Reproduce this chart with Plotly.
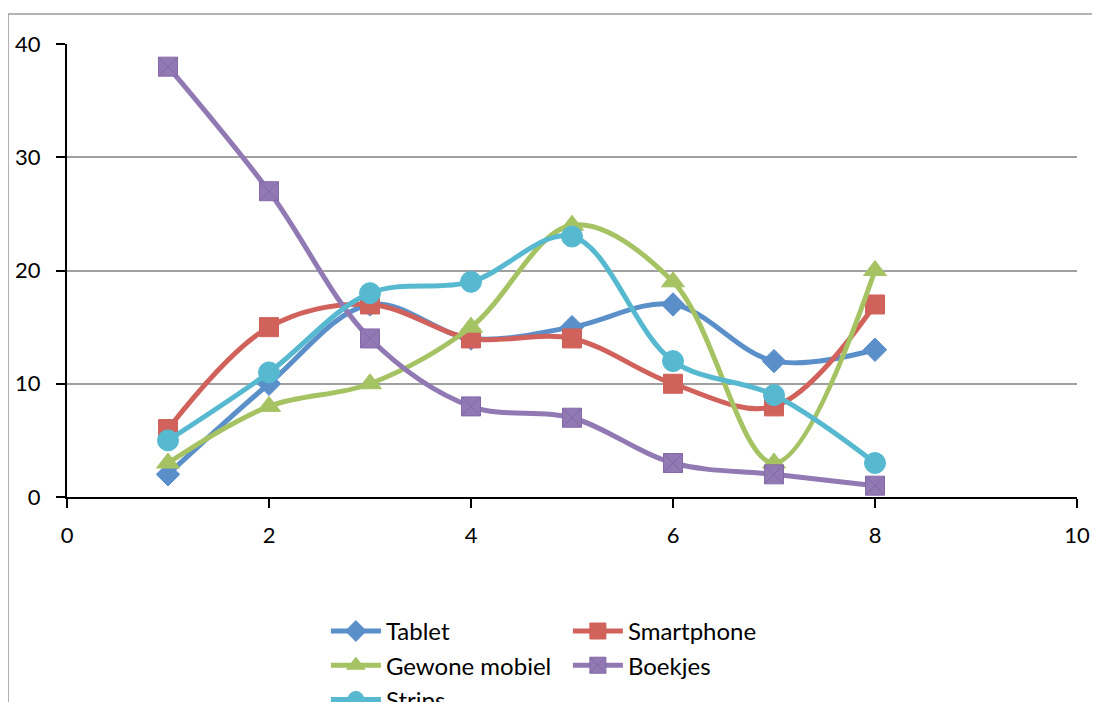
import plotly.graph_objects as go

x_vals = [1, 2, 3, 4, 5, 6, 7, 8]
tablet = [2, 10, 17, 14, 15, 17, 12, 13]
smartphone = [6, 15, 17, 14, 14, 10, 8, 17]
gewone_mobiel = [3, 8, 10, 15, 24, 19, 3, 20]
boekjes = [38, 27, 14, 8, 7, 3, 2, 1]
strips = [5, 11, 18, 19, 23, 12, 9, 3]

x_ticks = [0, 2, 4, 6, 8, 10]
y_ticks = [0, 10, 20, 30, 40]

FONT = "Lato, 'Open Sans', sans-serif"

series = [
    ("Tablet", tablet, "#5b8fca", "diamond", 18, "legend"),
    ("Smartphone", smartphone, "#d0625b", "square", 19, "legend2"),
    ("Gewone mobiel", gewone_mobiel, "#a6c363", "triangle-up", 20, "legend"),
    ("Boekjes", boekjes, "#9179b4", "square-x", 19, "legend2"),
    ("Strips", strips, "#56b9d0", "circle", 21, "legend"),
]

fig = go.Figure()
for name, vals, color, sym, size, leg in series:
    fig.add_trace(go.Scatter(
        x=x_vals, y=vals, name=name, mode="lines+markers",
        line=dict(color=color, width=5, shape="spline", smoothing=1),
        marker=dict(symbol=sym, size=size, color=color,
                    line=dict(color="#8468a8" if sym == "square-x" else color, width=1)),
        legend=leg,
    ))

legend_common = dict(
    orientation="v", xanchor="left", yanchor="top",
    xref="container", yref="container",
    font=dict(family=FONT, size=24, color="#000000"),
    itemwidth=50, bgcolor="rgba(0,0,0,0)", tracegroupgap=0,
)

fig.update_layout(
    width=1100, height=702,
    margin=dict(l=59, r=31, t=36, b=213, autoexpand=False),
    paper_bgcolor="white", plot_bgcolor="white",
    font=dict(family=FONT, size=22, color="#000000"),
    showlegend=True,
    legend=dict(x=0.289, y=0.144, **legend_common),
    legend2=dict(x=0.509, y=0.144, **legend_common),
    xaxis=dict(
        range=[0, 10], tickvals=x_ticks, ticktext=[str(v) for v in x_ticks],
        showgrid=False, zeroline=False,
        showline=True, linecolor="#000000", linewidth=2,
        ticks="outside", ticklen=9, tickwidth=2, tickcolor="#000000",
        ticklabelstandoff=9,
        tickfont=dict(family=FONT, size=22, color="#000000"),
    ),
    yaxis=dict(
        range=[0, 40], tickvals=y_ticks, ticktext=[str(v) for v in y_ticks],
        showgrid=True, gridcolor="#a0a0a0", gridwidth=2,
        zeroline=False,
        showline=True, linecolor="#000000", linewidth=2,
        ticks="outside", ticklen=9, tickwidth=2, tickcolor="#000000",
        ticklabelstandoff=11,
        tickfont=dict(family=FONT, size=22, color="#000000"),
    ),
    shapes=[dict(
        type="rect", xref="paper", yref="paper",
        x0=-0.0584, x1=1.05, y0=-0.5, y1=1.0662,
        line=dict(color="#9a9a9a", width=1.5), fillcolor="rgba(0,0,0,0)", layer="below",
    )],
)

fig.write_html("out.html")
